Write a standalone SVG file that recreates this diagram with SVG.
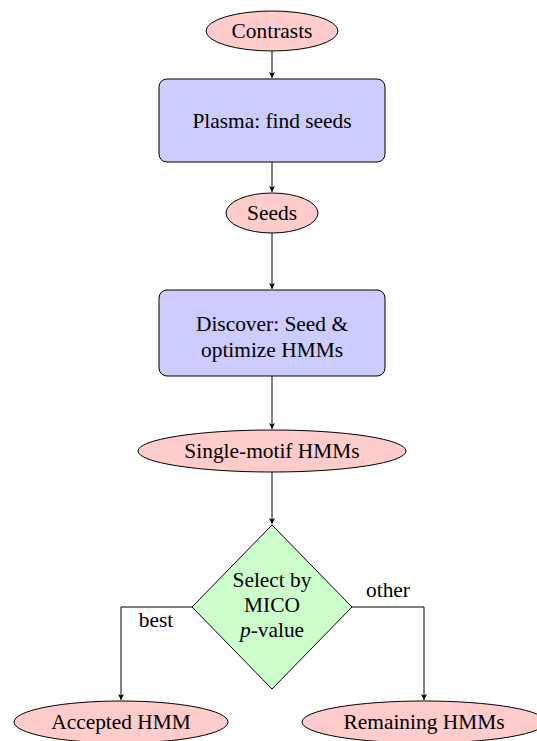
<svg xmlns="http://www.w3.org/2000/svg" width="537" height="741" viewBox="0 0 537 741">
<style>
.t{font-family:'Liberation Serif', 'DejaVu Serif', serif;font-size:21.4px;fill:#000;text-anchor:middle}
.term{fill:#ffcccc;stroke:#000;stroke-width:1}
.proc{fill:#ccccff;stroke:#000;stroke-width:1}
.dec{fill:#ccffcc;stroke:#000;stroke-width:1}
.edge{fill:none;stroke:#000;stroke-width:1;marker-end:url(#ah)}
</style>
<defs>
<marker id="ah" markerWidth="8" markerHeight="8" refX="6" refY="3" orient="auto" markerUnits="userSpaceOnUse">
<path d="M0,0 L6,3 L0,6 L1.5,3 Z" fill="#000"/>
</marker>
</defs>
<rect width="537" height="741" fill="#fff"/>
<g id="connectors">
<path class="edge" d="M272,51 V78"/>
<path class="edge" d="M272,162 V192"/>
<path class="edge" d="M272,233 V289"/>
<path class="edge" d="M272,376 V429"/>
<path class="edge" d="M272,472 V524"/>
<path class="edge" d="M192,607 H121 V700"/>
<path class="edge" d="M352,607 H424 V700"/>
</g>
<g id="contrasts"><ellipse class="term" cx="272" cy="31" rx="66" ry="20"/><text class="t" x="272" y="38">Contrasts</text></g>
<g id="plasma"><rect class="proc" x="159" y="79" width="226" height="83" rx="8"/><text class="t" x="272" y="128">Plasma: find seeds</text></g>
<g id="seeds"><ellipse class="term" cx="272" cy="213" rx="46" ry="20"/><text class="t" x="272" y="220">Seeds</text></g>
<g id="discover"><rect class="proc" x="159" y="290" width="226" height="86" rx="8"/><text class="t" x="272" y="331">Discover: Seed &amp;</text><text class="t" x="272" y="357">optimize HMMs</text></g>
<g id="single"><ellipse class="term" cx="272" cy="451" rx="134" ry="21"/><text class="t" x="272" y="458">Single-motif HMMs</text></g>
<g id="select"><polygon class="dec" points="272,525 352,607 272,689 192,607"/><text class="t" x="272" y="587">Select by</text><text class="t" x="272" y="612">MICO</text><text class="t" x="272" y="637"><tspan font-style="italic">p</tspan>-value</text></g>
<g id="labels"><text class="t" x="156" y="627">best</text><text class="t" x="388" y="597">other</text></g>
<g id="accepted"><ellipse class="term" cx="121" cy="722" rx="107" ry="21"/><text class="t" x="121" y="729">Accepted HMM</text></g>
<g id="remaining"><ellipse class="term" cx="424" cy="722" rx="122" ry="21"/><text class="t" x="424" y="729">Remaining HMMs</text></g>
</svg>
